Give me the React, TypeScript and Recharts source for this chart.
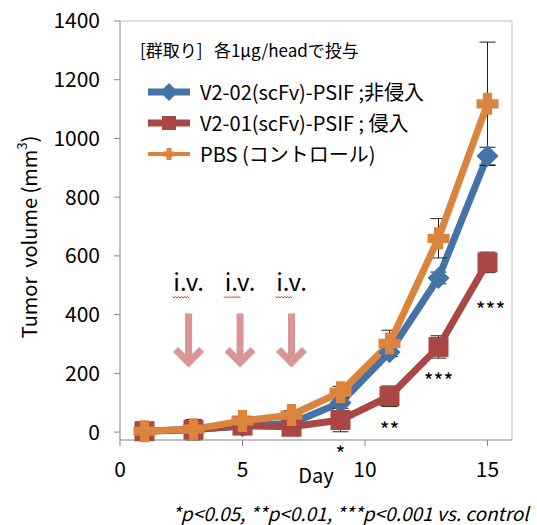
import { LineChart, Line, XAxis, YAxis, ErrorBar, ReferenceLine, ReferenceDot, LabelList, Label } from 'recharts'

const days = [1, 3, 5, 7, 9, 11, 13, 15]
const v202 = [3, 10, 20, 30, 100, 272, 525, 940]
const v202Err = [2, 4, 6, 6, 10, 15, 20, 30]
const v201 = [3, 8, 22, 18, 41, 122, 290, 578]
const v201Err = [25, 35, 10, 10, 40, 35, 38, 35]
const pbs = [3, 10, 38, 58, 136, 302, 660, 1118]
const pbsErr = [3, 5, 10, 15, 20, 45, 67, 210]
const sigLabels = ['', '', '', '', '*', '**', '***', '***']
const ivDays = [2.8, 4.9, 7]
const xTicks = [0, 5, 10, 15]
const yTicks = [0, 200, 400, 600, 800, 1000, 1200, 1400]

const font = "'Noto Sans CJK JP', 'Noto Sans', sans-serif"
const axisColor = '#868686'

const series = [
  { key: 'v202', name: 'V2-02(scFv)-PSIF ;非侵入', color: '#4572A7', marker: 'diamond' },
  { key: 'v201', name: 'V2-01(scFv)-PSIF ; 侵入', color: '#AA4643', marker: 'square' },
  { key: 'pbs', name: 'PBS (コントロール)', color: '#DB843D', marker: 'plus' },
]

const data = days.map((d, i) => ({
  day: d,
  v202: v202[i], v202Err: v202Err[i],
  v201: v201[i], v201Err: v201Err[i],
  pbs: pbs[i], pbsErr: pbsErr[i],
  sig: sigLabels[i],
}))

function marker(type: string, color: string, cx: number, cy: number, s: number, key?: string) {
  if (type === 'diamond') return <path key={key} d={`M${cx},${cy - s} L${cx + s},${cy} L${cx},${cy + s} L${cx - s},${cy} Z`} fill={color} />
  if (type === 'square') return <rect key={key} x={cx - s + 1} y={cy - s + 1} width={(s - 1) * 2} height={(s - 1) * 2} fill={color} />
  const t = s * 0.42
  return <path key={key} d={`M${cx - t},${cy - s} H${cx + t} V${cy - t} H${cx + s} V${cy + t} H${cx + t} V${cy + s} H${cx - t} V${cy + t} H${cx - s} V${cy - t} H${cx - t} Z`} fill={color} />
}

const dotFor = (type: string, color: string) => (p: any) => marker(type, color, p.cx, p.cy, 11, `dot-${p.index}`)

function IvArrow(p: any) {
  const { cx, cy } = p
  let wave = `M${cx - 16},${cy - 17}`
  for (let i = 0; i < 11; i++) wave += ` l1.5,${i % 2 ? -1.6 : 1.6}`
  return (
    <g>
      <text x={cx} y={cy - 22} textAnchor="middle" fontSize={24} fontFamily={font} fill="#000">i.v.</text>
      <path d={wave} stroke="#E03535" strokeWidth={1} fill="none" />
      <path d={`M${cx},${cy} V${cy + 48}`} stroke="#D99694" strokeWidth={7} fill="none" />
      <path d={`M${cx - 13},${cy + 36} L${cx},${cy + 49} L${cx + 13},${cy + 36}`} stroke="#D99694" strokeWidth={7} fill="none" strokeLinejoin="miter" />
    </g>
  )
}

function SigLabel(p: any) {
  if (!p.value) return null
  // the last label sits lower, below its error bar
  const last = p.index === days.length - 1
  return (
    <text x={p.x + (last ? 3 : 0)} y={p.y + (last ? 40 : 26)} textAnchor="middle" dominantBaseline="central" fontSize={21} fontFamily={font} fill="#000" dy={7}>
      {p.value}
    </text>
  )
}

function YLabel() {
  const cx = 28
  const cy = 237
  return (
    <text x={cx} y={cy} transform={`rotate(-90 ${cx} ${cy})`} textAnchor="middle" dominantBaseline="central" fontSize={20} fontFamily={font} fill="#000" style={{ whiteSpace: 'pre' }}>
      {'Tumor  volume (mm'}<tspan dy={-7} fontSize={13}>3</tspan><tspan dy={7}>)</tspan>
    </text>
  )
}

function Legend() {
  return (
    <div style={{ position: 'absolute', left: 140, top: 37, fontFamily: font, color: '#000' }}>
      <div style={{ fontSize: 17, height: 26, lineHeight: '26px', whiteSpace: 'pre' }}>{'[群取り]   各1μg/headで投与'}</div>
      <div style={{ height: 13 }} />
      {series.map(s => (
        <div key={s.key} style={{ display: 'flex', alignItems: 'center', height: 31 }}>
          <svg width={52} height={24} style={{ marginLeft: 6 }}>
            <line x1={2} x2={44} y1={12} y2={12} stroke={s.color} strokeWidth={s.marker === 'plus' ? 4 : 7} />
            {marker(s.marker, s.color, 23, 12, s.marker === 'diamond' ? 9 : s.marker === 'square' ? 8 : 6)}
          </svg>
          <span style={{ fontSize: 20, whiteSpace: 'pre', marginLeft: 2 }}>{s.name}</span>
        </div>
      ))}
    </div>
  )
}

export default function App() {
  return (
    <div style={{ position: 'absolute', left: 0, top: 0, width: 537, height: 525, background: '#fff' }}>
      <LineChart width={537} height={525} data={data} margin={{ top: 21, right: 25, bottom: 55, left: 0 }}>
        <XAxis dataKey="day" type="number" domain={[0, 16]} ticks={xTicks} stroke={axisColor} tickSize={6} tickMargin={16}
          tick={{ fill: '#000', fontSize: 21, fontFamily: font }} height={30}>
          <Label value="Day" position="bottom" offset={-1} fill="#000" fontSize={20} fontFamily={font} />
        </XAxis>
        <YAxis type="number" domain={[0, 1400]} ticks={yTicks} stroke={axisColor} tickSize={6} tickMargin={14} width={120}
          tick={{ fill: '#000', fontSize: 21, fontFamily: font }}>
          <Label content={YLabel} />
        </YAxis>
        <ReferenceLine y={1400} stroke="#C0C0C0" />
        <ReferenceLine x={16} stroke="#C0C0C0" />
        {ivDays.map(d => <ReferenceDot key={d} x={d} y={404} r={0} shape={IvArrow} ifOverflow="visible" />)}
        {series.map(s => (
          <Line key={s.key} dataKey={s.key} stroke={s.color} strokeWidth={7} isAnimationActive={false}
            dot={dotFor(s.marker, s.color)} activeDot={false}>
            <ErrorBar dataKey={`${s.key}Err`} width={8} stroke="#222" strokeWidth={1} direction="y" />
            {s.key === 'v201' && <LabelList dataKey="sig" content={SigLabel} />}
          </Line>
        ))}
      </LineChart>
      <Legend />
      <div style={{ position: 'absolute', left: 172, top: 499, fontFamily: font, fontSize: 19, fontStyle: 'italic', whiteSpace: 'pre', color: '#000' }}>
        *p&lt;0.05, **p&lt;0.01, ***p&lt;0.001 vs. control
      </div>
    </div>
  )
}
